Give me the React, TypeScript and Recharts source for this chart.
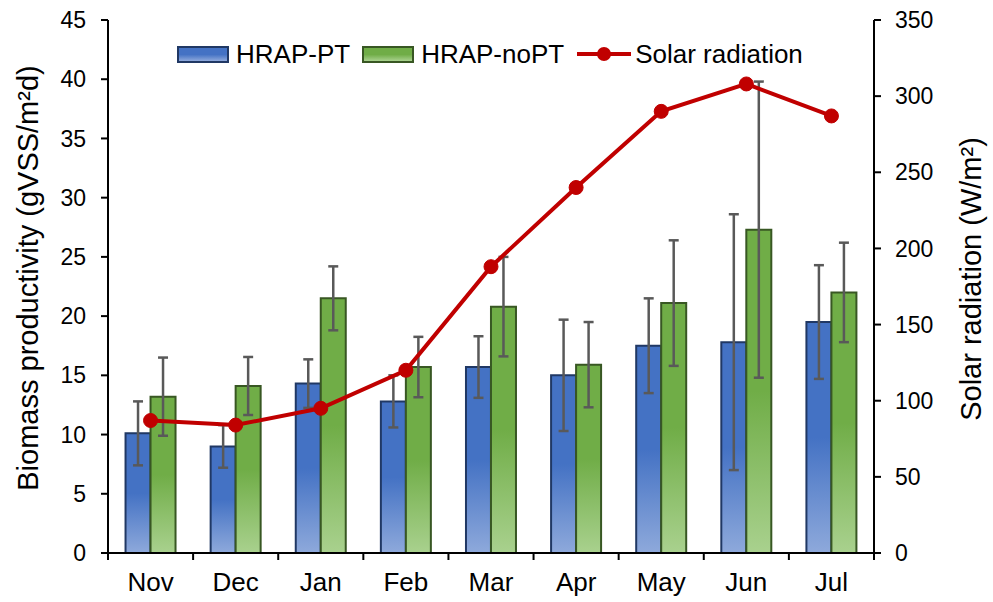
import { ComposedChart, Bar, Line, XAxis, YAxis, ErrorBar, Legend } from 'recharts'

const months = ['Nov', 'Dec', 'Jan', 'Feb', 'Mar', 'Apr', 'May', 'Jun', 'Jul']
const hrapPT = [10.1, 9.0, 14.3, 12.8, 15.7, 15.0, 17.5, 17.8, 19.5]
const hrapPTErr = [2.7, 1.8, 2.05, 2.2, 2.6, 4.7, 4.0, 10.8, 4.8]
const hrapNoPT = [13.2, 14.1, 21.5, 15.7, 20.8, 15.9, 21.1, 27.3, 22.0]
const hrapNoPTErr = [3.3, 2.45, 2.7, 2.55, 4.2, 3.6, 5.3, 12.5, 4.2]
const solar = [87, 84, 95, 120, 188, 240, 290, 308, 287]
const leftTicks = [0, 5, 10, 15, 20, 25, 30, 35, 40, 45]
const rightTicks = [0, 50, 100, 150, 200, 250, 300, 350]

const data = months.map((m, i) => ({
  month: m,
  pt: hrapPT[i],
  ptErr: hrapPTErr[i],
  noPt: hrapNoPT[i],
  noPtErr: hrapNoPTErr[i],
  solar: solar[i],
}))

const W = 993
const H = 602
const leftW = 108
const rightW = 119
const band = (W - leftW - rightW) / months.length
const font = '"Liberation Sans", Arial, sans-serif'

const blueGrad = 'linear-gradient(#4472C4 0%, #4472C4 50%, #8EA9DB 100%)'
const greenGrad = 'linear-gradient(#70AD47 0%, #70AD47 50%, #A9D18E 100%)'

function MonthTick(props: any) {
  const { x, y, payload, index } = props
  return (
    <g>
      <line x1={x - band / 2} x2={x - band / 2} y1={y} y2={y + 7} stroke="#000" strokeWidth={2} />
      {index === months.length - 1 && (
        <line x1={x + band / 2} x2={x + band / 2} y1={y} y2={y + 7} stroke="#000" strokeWidth={2} />
      )}
      <text x={x} y={y + 20} dy="0.71em" textAnchor="middle" fontSize={26} fill="#000" fontFamily={font}>
        {payload.value}
      </text>
    </g>
  )
}

function LegendBox() {
  const sw = { width: 48, height: 13, display: 'inline-block' }
  return (
    <div style={{ display: 'flex', alignItems: 'center', fontFamily: font, fontSize: 26, color: '#000', lineHeight: 1, whiteSpace: 'nowrap' }}>
      <span style={{ ...sw, background: blueGrad, border: '2px solid #203864' }} />
      <span style={{ marginLeft: 7, marginRight: 12 }}>HRAP-PT</span>
      <span style={{ ...sw, background: greenGrad, border: '2px solid #385723' }} />
      <span style={{ marginLeft: 7, marginRight: 13 }}>HRAP-noPT</span>
      <svg width={54} height={16}>
        <line x1={0} x2={54} y1={8} y2={8} stroke="#C00000" strokeWidth={4} />
        <circle cx={27} cy={8} r={7} fill="#C00000" />
      </svg>
      <span style={{ marginLeft: 4 }}>Solar radiation</span>
    </div>
  )
}

const axisStyle = { stroke: '#000', strokeWidth: 2 }
const tickStyle = { fontSize: 23, fill: '#000', fontFamily: font }

export default function App() {
  return (
    <div style={{ position: 'absolute', left: 0, top: 0, background: '#fff' }}>
      <ComposedChart
        width={W}
        height={H}
        data={data}
        margin={{ top: 20, right: 0, bottom: 0, left: 0 }}
        barGap={0}
        barCategoryGap="20.6%"
      >
        <defs>
          <linearGradient id="gBlue" x1="0" y1="0" x2="0" y2="1">
            <stop offset="0%" stopColor="#4472C4" />
            <stop offset="50%" stopColor="#4472C4" />
            <stop offset="100%" stopColor="#8EA9DB" />
          </linearGradient>
          <linearGradient id="gGreen" x1="0" y1="0" x2="0" y2="1">
            <stop offset="0%" stopColor="#70AD47" />
            <stop offset="50%" stopColor="#70AD47" />
            <stop offset="100%" stopColor="#A9D18E" />
          </linearGradient>
        </defs>
        <XAxis
          dataKey="month"
          height={49}
          axisLine={axisStyle}
          tickLine={false}
          tickSize={0}
          tickMargin={0}
          tick={<MonthTick />}
          interval={0}
        />
        <YAxis
          yAxisId="left"
          width={leftW}
          domain={[0, 45]}
          ticks={leftTicks}
          axisLine={axisStyle}
          tickLine={axisStyle}
          tickSize={7}
          tickMargin={15}
          tick={tickStyle}
          label={() => (
            <text
              transform="translate(28,278) rotate(-90)"
              textAnchor="middle"
              dominantBaseline="central"
              fontSize={29}
              fill="#000"
              fontFamily={font}
            >
              Biomass productivity (gVSS/m²d)
            </text>
          )}
        />
        <YAxis
          yAxisId="right"
          orientation="right"
          width={rightW}
          domain={[0, 350]}
          ticks={rightTicks}
          axisLine={axisStyle}
          tickLine={axisStyle}
          tickSize={7}
          tickMargin={14}
          tick={tickStyle}
          label={() => (
            <text
              transform="translate(971,279) rotate(-90)"
              textAnchor="middle"
              dominantBaseline="central"
              fontSize={29}
              fill="#000"
              fontFamily={font}
            >
              Solar radiation (W/m²)
            </text>
          )}
        />
        <Legend
          layout="horizontal"
          verticalAlign="middle"
          align="center"
          wrapperStyle={{ top: 41, left: 177, width: 'auto' }}
          content={<LegendBox />}
        />
        <Bar yAxisId="left" dataKey="pt" fill="url(#gBlue)" stroke="#203864" strokeWidth={2} isAnimationActive={false}>
          <ErrorBar dataKey="ptErr" width={5} stroke="#595959" strokeWidth={2.5} />
        </Bar>
        <Bar yAxisId="left" dataKey="noPt" fill="url(#gGreen)" stroke="#385723" strokeWidth={2} isAnimationActive={false}>
          <ErrorBar dataKey="noPtErr" width={5} stroke="#595959" strokeWidth={2.5} />
        </Bar>
        <Line
          yAxisId="right"
          dataKey="solar"
          stroke="#C00000"
          strokeWidth={4}
          dot={{ r: 7, fill: '#C00000', stroke: '#C00000', strokeWidth: 1 }}
          isAnimationActive={false}
        />
      </ComposedChart>
    </div>
  )
}
